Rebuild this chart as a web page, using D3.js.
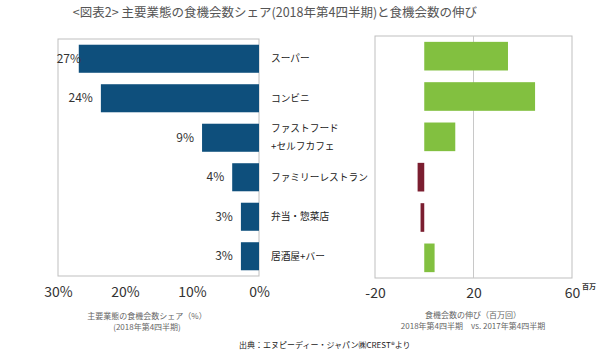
<!DOCTYPE html>
<html>
<head>
<meta charset="utf-8">
<script src="https://cdn.jsdelivr.net/npm/d3@7"></script>
<style>
  body { margin: 0; background: #fff; }
  text { font-family: "Noto Sans CJK JP", "Noto Sans", sans-serif; }
</style>
</head>
<body>
<div id="chart"></div>
<script>
// categories (two-line labels split with \n)
const categories = ["スーパー", "コンビニ", "ファストフード\n+セルフカフェ", "ファミリーレストラン", "弁当・惣菜店", "居酒屋+バー"];
const shareValues = [26.9, 23.6, 8.5, 4.0, 2.7, 2.7];
const shareLabels = ["27%", "24%", "9%", "4%", "3%", "3%"];
const growthValues = [34, 45, 12.6, -2.7, -1.5, 4.2];
const shareTicks = [0, 10, 20, 30];
const growthTicks = [-20, 20, 60];

const width = 600, height = 354;
const svg = d3.select("#chart").append("svg")
    .attr("width", width)
    .attr("height", height);

// title
svg.append("text")
    .attr("x", 275)
    .attr("y", 17)
    .attr("text-anchor", "middle")
    .attr("font-size", 12.5)
    .attr("fill", "#555")
    .text("<図表2> 主要業態の食機会数シェア(2018年第4四半期)と食機会数の伸び");

// ---------- left panel: share ----------
const left = {x0: 58, x1: 259, y0: 39, y1: 276};

const xL = d3.scaleLinear()
    .domain([30, 0])
    .range([left.x0, left.x1]);

const yL = d3.scaleBand()
    .domain(categories)
    .range([left.y0, left.y1])
    .paddingInner(0.29)
    .paddingOuter(0.145);

svg.append("rect")
    .attr("x", left.x0).attr("y", left.y0)
    .attr("width", left.x1 - left.x0).attr("height", left.y1 - left.y0)
    .attr("fill", "none").attr("stroke", "#bfbfbf").attr("stroke-width", 1);

svg.selectAll("rect.share")
  .data(categories)
  .join("rect")
    .attr("class", "share")
    .attr("x", (d, i) => xL(shareValues[i]))
    .attr("y", d => yL(d))
    .attr("width", (d, i) => xL(0) - xL(shareValues[i]))
    .attr("height", yL.bandwidth())
    .attr("fill", "#0e4f7c");

svg.selectAll("text.shareLabel")
  .data(categories)
  .join("text")
    .attr("class", "shareLabel")
    .attr("x", (d, i) => Math.max(xL(shareValues[i]) - 8, left.x0 + 23))
    .attr("y", d => yL(d) + yL.bandwidth() / 2)
    .attr("dy", "0.35em")
    .attr("text-anchor", "end")
    .attr("font-size", 12)
    .attr("fill", "#333")
    .text((d, i) => shareLabels[i]);

const xAxisL = d3.axisBottom(xL)
    .tickValues(shareTicks)
    .tickFormat(d => d + "%")
    .tickSize(0)
    .tickPadding(11);

svg.append("g")
    .attr("transform", `translate(0, ${left.y1})`)
    .call(xAxisL)
    .call(g => g.select(".domain").remove())
    .call(g => g.selectAll("text")
        .attr("font-size", 14)
        .attr("fill", "#333")
        .attr("font-family", "\"Noto Sans\", sans-serif"));

svg.append("text")
    .attr("x", 147).attr("y", 319)
    .attr("text-anchor", "middle")
    .attr("font-size", 8).attr("fill", "#666")
    .text("主要業態の食機会数シェア（%）");
svg.append("text")
    .attr("x", 147).attr("y", 330)
    .attr("text-anchor", "middle")
    .attr("font-size", 8).attr("fill", "#666")
    .text("(2018年第4四半期)");

// category labels (between panels)
const catLabels = svg.selectAll("text.cat")
  .data(categories)
  .join("text")
    .attr("class", "cat")
    .attr("x", 271)
    .attr("y", d => yL(d) + yL.bandwidth() / 2)
    .attr("font-size", 9.7)
    .attr("fill", "#222");

catLabels.each(function(d) {
  const lines = d.split("\n");
  const t = d3.select(this);
  lines.forEach((ln, k) => {
    t.append("tspan")
      .attr("x", 271)
      .attr("dy", k === 0 ? (lines.length === 1 ? "0.35em" : "-0.6em") : "1.9em")
      .text(ln);
  });
});

// ---------- right panel: growth ----------
const right = {x0: 375, x1: 572, y0: 36, y1: 278};

const xR = d3.scaleLinear()
    .domain([-20, 60])
    .range([right.x0, right.x1]);

const yR = d3.scaleBand()
    .domain(categories)
    .range([right.y0, right.y1])
    .paddingInner(0.29)
    .paddingOuter(0.145);

svg.append("rect")
    .attr("x", right.x0).attr("y", right.y0)
    .attr("width", right.x1 - right.x0).attr("height", right.y1 - right.y0)
    .attr("fill", "none").attr("stroke", "#bfbfbf").attr("stroke-width", 1);

svg.append("line")
    .attr("x1", xR(20)).attr("x2", xR(20))
    .attr("y1", right.y0).attr("y2", right.y1)
    .attr("stroke", "#c8c8c8").attr("stroke-width", 1);

svg.selectAll("rect.growth")
  .data(categories)
  .join("rect")
    .attr("class", "growth")
    .attr("x", (d, i) => xR(Math.min(0, growthValues[i])))
    .attr("y", d => yR(d))
    .attr("width", (d, i) => Math.abs(xR(growthValues[i]) - xR(0)))
    .attr("height", yR.bandwidth())
    .attr("fill", (d, i) => growthValues[i] >= 0 ? "#82c040" : "#7b1e30");

const xAxisR = d3.axisBottom(xR)
    .tickValues(growthTicks)
    .tickFormat(d => String(d))
    .tickSize(0)
    .tickPadding(10);

svg.append("g")
    .attr("transform", `translate(0, ${right.y1})`)
    .call(xAxisR)
    .call(g => g.select(".domain").remove())
    .call(g => g.selectAll("text")
        .attr("font-size", 14)
        .attr("fill", "#333")
        .attr("font-family", "\"Noto Sans\", sans-serif"));

svg.append("text")
    .attr("x", 589).attr("y", 289)
    .attr("text-anchor", "middle")
    .attr("font-size", 7).attr("font-weight", "bold").attr("fill", "#333")
    .text("百万");

svg.append("text")
    .attr("x", 473).attr("y", 318)
    .attr("text-anchor", "middle")
    .attr("font-size", 8).attr("fill", "#666")
    .text("食機会数の伸び（百万回）");
svg.append("text")
    .attr("x", 473).attr("y", 329)
    .attr("text-anchor", "middle")
    .attr("font-size", 8).attr("fill", "#666")
    .text("2018年第4四半期　vs. 2017年第4四半期");

// source
svg.append("text")
    .attr("x", 239).attr("y", 348)
    .attr("font-size", 8).attr("fill", "#222")
    .text("出典：エヌピーディー・ジャパン㈱CREST®より");
</script>
</body>
</html>
